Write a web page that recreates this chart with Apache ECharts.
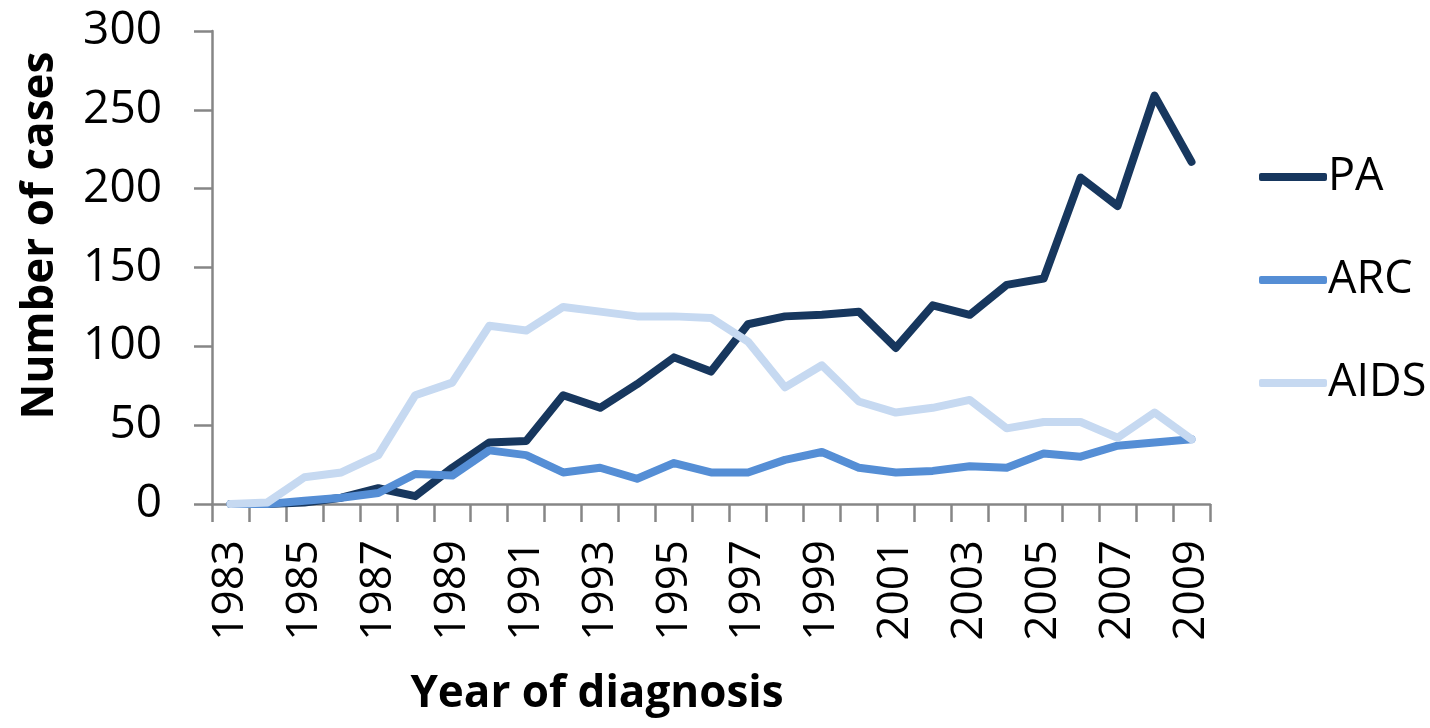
<!DOCTYPE html>
<html>
<head>
<meta charset="utf-8">
<script src="https://cdn.jsdelivr.net/npm/echarts@6/dist/echarts.min.js"></script>
<style>
  html, body { margin: 0; padding: 0; background: #fff; }
  #chart { width: 1430px; height: 728px; }
</style>
</head>
<body>
<div id="chart"></div>
<script>
// years of diagnosis
const years = ['1983','1984','1985','1986','1987','1988','1989','1990','1991','1992','1993','1994','1995','1996',
  '1997','1998','1999','2000','2001','2002','2003','2004','2005','2006','2007','2008','2009'];
// number of cases
const paCases   = [0, 0, 1, 4, 10, 5, 23, 39, 40, 69, 61, 76, 93, 84, 114, 119, 120, 122, 99, 126, 120, 139, 143, 207, 189, 259, 217];
const arcCases  = [0, 0, 2, 4, 7, 19, 18, 34, 31, 20, 23, 16, 26, 20, 20, 28, 33, 23, 20, 21, 24, 23, 32, 30, 37, 39, 41];
const aidsCases = [0, 1, 17, 20, 31, 69, 77, 113, 110, 125, 122, 119, 119, 118, 103, 74, 88, 65, 58, 61, 66, 48, 52, 52, 42, 58, 41];

const labelFont = "'Open Sans', 'DejaVu Sans', sans-serif";
const titleFont = "'Liberation Sans Narrow', 'Open Sans', sans-serif";
const axisGrey = '#868686';

let chart = echarts.init(document.getElementById('chart'), null, { renderer: 'canvas' });

function lineSeries(name, data, color) {
  return {
    name: name,
    type: 'line',
    data: data,
    symbol: 'none',
    color: color,
    lineStyle: { width: 8, color: color, cap: 'round', join: 'round' },
    animation: false
  };
}

chart.setOption({
  backgroundColor: '#fff',
  animation: false,
  grid: { left: 212, right: 220, top: 31, bottom: 224, containLabel: false },
  legend: {
    orient: 'vertical',
    left: 1254,
    top: 149,
    icon: 'roundRect',
    itemWidth: 68,
    itemHeight: 8,
    itemGap: 57,
    textStyle: { fontFamily: labelFont, fontSize: 45, color: '#000', lineHeight: 46, padding: [0, 0, 0, -4] },
    data: ['PA', 'ARC', 'AIDS']
  },
  xAxis: {
    type: 'category',
    data: years,
    boundaryGap: true,
    name: 'Year of diagnosis',
    nameLocation: 'middle',
    nameGap: 168,
    nameTextStyle: { fontFamily: titleFont, fontWeight: 'bold', fontSize: 44, color: '#000', padding: [0, 228, 0, 0] },
    axisLine: { lineStyle: { color: axisGrey, width: 2.5 } },
    axisTick: { show: true, interval: 0, length: 18, lineStyle: { color: axisGrey, width: 2.5 } },
    axisLabel: { interval: 1, rotate: 90, margin: 36, fontFamily: labelFont, fontSize: 44, color: '#000' }
  },
  yAxis: {
    type: 'value',
    min: 0,
    max: 300,
    interval: 50,
    name: 'Number of cases',
    nameLocation: 'middle',
    nameGap: 150,
    nameTextStyle: { fontFamily: titleFont, fontWeight: 'bold', fontSize: 44, color: '#000', padding: [0, 0, 0, 64] },
    splitLine: { show: false },
    axisLine: { show: true, lineStyle: { color: axisGrey, width: 2.5 } },
    axisTick: { show: true, length: 18, lineStyle: { color: axisGrey, width: 2.5 } },
    axisLabel: { margin: 50, fontFamily: labelFont, fontSize: 46, color: '#000' }
  },
  series: [
    lineSeries('PA', paCases, '#17375E'),
    lineSeries('ARC', arcCases, '#558ED5'),
    lineSeries('AIDS', aidsCases, '#C6D9F1')
  ]
});
</script>
</body>
</html>
